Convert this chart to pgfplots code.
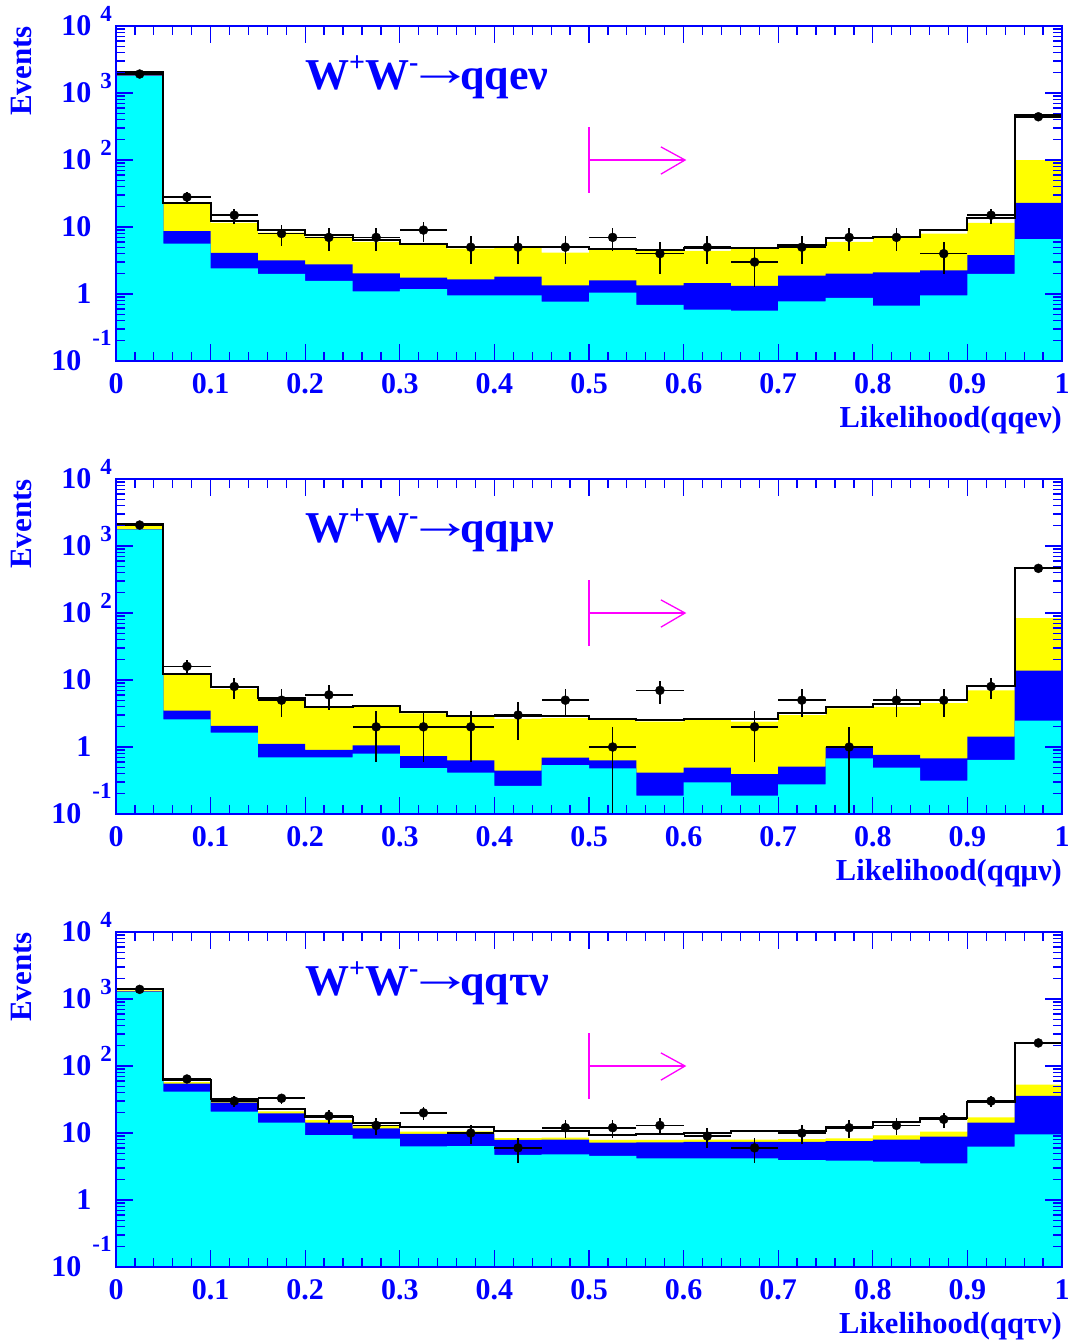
\documentclass[border=0pt]{standalone}
\usepackage{pgfplots}
\usepackage{pgfplotstable}
\pgfplotsset{compat=1.18}
\usepackage{fontspec}
\setmainfont{Liberation Serif}
\definecolor{rblue}{RGB}{0,0,255}
\definecolor{rcyan}{RGB}{0,255,255}
\definecolor{ryellow}{RGB}{255,255,0}
\definecolor{rmag}{RGB}{255,0,255}
\newcommand\tfont{\fontsize{30}{30}\selectfont\bfseries}
\newcommand\ex[1]{\smash{\rlap{\raisebox{14pt}{\fontsize{23}{23}\selectfont\bfseries\kern9pt#1}}}}
\newcommand\exm{\makebox[0pt][r]{10\kern10pt}\smash{\rlap{\raisebox{25pt}{\fontsize{23}{23}\selectfont\bfseries\kern1pt -1}}}}
\newcommand\sps[1]{\raisebox{0.42em}{\fontsize{28}{28}\selectfont #1}}
\newcommand\arr{\kern-11pt\raisebox{4pt}{\scalebox{1.5}[1.15]{\mdseries →}}\kern-13pt}

\pgfplotstableread{
x cc bb yy tt
0.00 1790 1830 1880 2055
0.05 5.66 8.65 22.9 23.0
0.10 2.42 4.11 11.5 12.2
0.15 2.0 3.19 8.27 9.06
0.20 1.57 2.78 7.12 7.71
0.25 1.09 2.04 6.0 6.35
0.30 1.18 1.76 5.47 5.6
0.35 0.957 1.66 4.77 4.99
0.40 0.95 1.82 4.88 5.0
0.45 0.77 1.35 4.16 5.0
0.50 1.05 1.60 4.61 4.77
0.55 0.687 1.35 4.40 4.6
0.60 0.585 1.45 4.4 4.9
0.65 0.565 1.32 4.75 4.8
0.70 0.778 1.88 5.17 5.47
0.75 0.873 2.02 6.0 6.96
0.80 0.67 2.11 6.9 7.0
0.85 0.95 2.26 7.98 8.96
0.90 2.0 3.79 11.5 13.8
0.95 6.57 22.9 99.5 468
1.00 6.57 22.9 99.5 468
}\hA
\pgfplotstableread{
x n ep em
0.025 1920 43.8 43.8
0.075 28 5.29 5.29
0.125 15 3.87 3.87
0.175 8 2.83 2.83
0.225 7 2.65 2.65
0.275 7 2.65 2.65
0.325 9 3 3
0.375 5 2.24 2.24
0.425 5 2.24 2.24
0.475 5 2.24 2.24
0.525 7 2.65 2.65
0.575 4 2 2
0.625 5 2.24 2.24
0.675 3 1.73 1.73
0.725 5 2.24 2.24
0.775 7 2.65 2.65
0.825 7 2.65 2.65
0.875 4 2 2
0.925 15 3.87 3.87
0.975 442 21.0 21.0
}\dA

\pgfplotstableread{
x cc bb yy tt
0.00 1750 1770 2000 2150
0.05 2.59 3.48 12.3 12.3
0.10 1.64 2.06 7.34 7.94
0.15 0.70 1.11 5.03 5.4
0.20 0.70 0.91 3.91 3.95
0.25 0.795 1.06 3.99 4.14
0.30 0.486 0.734 3.18 3.35
0.35 0.414 0.632 2.8 2.87
0.40 0.262 0.443 2.62 2.9
0.45 0.538 0.693 2.7 2.94
0.50 0.481 0.632 2.53 2.62
0.55 0.188 0.414 2.39 2.53
0.60 0.297 0.492 2.53 2.62
0.65 0.188 0.395 2.39 2.62
0.70 0.277 0.508 3.0 3.25
0.75 0.677 1.0 3.78 3.97
0.80 0.492 0.76 3.97 4.43
0.85 0.315 0.677 4.5 5.03
0.90 0.64 1.43 7.0 8.23
0.95 2.47 13.8 84.2 464
1.00 2.47 13.8 84.2 464
}\hB
\pgfplotstableread{
x n ep em
0.025 2055 45.3 45.3
0.075 16 4 4
0.125 8 2.83 2.83
0.175 5 2.24 2.24
0.225 6 2.45 2.45
0.275 2 1.41 1.41
0.325 2 1.41 1.41
0.375 2 1.41 1.41
0.425 3 1.73 1.73
0.475 5 2.24 2.24
0.525 1 1 0.999
0.575 7 2.65 2.65
0.675 2 1.41 1.41
0.725 5 2.24 2.24
0.775 1 1 0.999
0.825 5 2.24 2.24
0.875 5 2.24 2.24
0.925 8 2.83 2.83
0.975 464 21.5 21.5
}\dB

\pgfplotstableread{
x cc bb yy tt
0.00 1271 1300 1340 1426
0.05 41.4 54.5 57.7 61.8
0.10 20.8 28.4 30.7 31.8
0.15 14.3 19.7 21.0 23.1
0.20 9.34 14.3 15.6 17.5
0.25 8.23 11.7 12.7 14.3
0.30 6.32 9.67 10.5 12.2
0.35 6.4 9.8 10.6 12.4
0.40 4.7 7.87 8.4 10.6
0.45 4.8 8.0 8.5 10.6
0.50 4.54 7.17 7.9 9.3
0.55 4.19 7.25 7.9 9.77
0.60 4.19 7.4 8.0 9.9
0.65 4.19 7.4 8.0 10.8
0.70 3.95 7.4 8.1 10.8
0.75 3.86 7.6 8.3 12.4
0.80 3.73 8.0 9.2 14.6
0.85 3.53 8.8 10.5 16.7
0.90 6.25 14.3 17.1 29.0
0.95 9.55 35.7 52.7 223
1.00 9.55 35.7 52.7 223
}\hC
\pgfplotstableread{
x n ep em
0.025 1393 37.3 37.3
0.075 64 8 8
0.125 30 5.48 5.48
0.175 33 5.74 5.74
0.225 18 4.24 4.24
0.275 13 3.61 3.61
0.325 20 4.47 4.47
0.375 10 3.16 3.16
0.425 6 2.45 2.45
0.475 12 3.46 3.46
0.525 12 3.46 3.46
0.575 13 3.61 3.61
0.625 9 3 3
0.675 6 2.45 2.45
0.725 10 3.16 3.16
0.775 12 3.46 3.46
0.825 13 3.61 3.61
0.875 16 4 4
0.925 30 5.48 5.48
0.975 221 14.9 14.9
}\dC

\pgfplotsset{
  every axis/.append style={
    axis line style={rblue, line width=1.6pt},
    major tick length=17pt, minor tick length=9pt,
    tick align=inside, xtick pos=both, ytick pos=both,
    ticklabel style={font=\tfont, text=rblue},
    xticklabel style={yshift=-9pt},
    yticklabel style={xshift=-21pt},
    ylabel style={at={(axis description cs:-0.0994,1)}, anchor=east, font=\fontsize{31}{31}\selectfont\bfseries, text=rblue, inner sep=0pt},
    xlabel style={at={(axis description cs:1,-0.135)}, anchor=north east, font=\fontsize{30.5}{30.5}\selectfont\bfseries, text=rblue, inner sep=0pt},
  },
  every tick/.style={rblue, line width=1.3pt},
}

\begin{document}
\begin{tikzpicture}
\useasboundingbox (0pt,0pt) rectangle (1068pt,-1343pt);

\begin{axis}[width=946pt, height=335pt, scale only axis, anchor=north west, at={(116pt,-26pt)},
  xmin=0, xmax=1, ymode=log, ymin=0.1, ymax=10000, axis on top,
  xtick={0,0.1,0.2,0.3,0.4,0.5,0.6,0.7,0.8,0.9,1},
  xticklabels={0,0.1,0.2,0.3,0.4,0.5,0.6,0.7,0.8,0.9,1},
  minor xtick={0.02,0.04,0.06,0.08,0.12,0.14,0.16,0.18,0.22,0.24,0.26,0.28,0.32,0.34,0.36,0.38,0.42,0.44,0.46,0.48,0.52,0.54,0.56,0.58,0.62,0.64,0.66,0.68,0.72,0.74,0.76,0.78,0.82,0.84,0.86,0.88,0.92,0.94,0.96,0.98},
  ytick={0.1,1,10,100,1000,10000},
  yticklabels={\exm,1,10,10\ex{2},10\ex{3},10\ex{4}},
  minor ytick={0.2,0.3,0.4,0.5,0.6,0.7,0.8,0.9,2,3,4,5,6,7,8,9,20,30,40,50,60,70,80,90,200,300,400,500,600,700,800,900,2000,3000,4000,5000,6000,7000,8000,9000},
  ylabel={Events}, xlabel={Likelihood(qqeν)}]
\addplot[const plot, fill=white, draw=black, line width=2pt] table[x=x,y=tt]{\hA} |- (axis cs:0,0.01) -- cycle;
\addplot[const plot, fill=ryellow, draw=none] table[x=x,y=yy]{\hA} |- (axis cs:0,0.01) -- cycle;
\addplot[const plot, fill=rblue, draw=none] table[x=x,y=bb]{\hA} |- (axis cs:0,0.01) -- cycle;
\addplot[const plot, fill=rcyan, draw=none] table[x=x,y=cc]{\hA} |- (axis cs:0,0.01) -- cycle;
\addplot[const plot, black, line width=2pt, no marks] table[x=x,y=tt]{\hA};
\addplot[black, only marks, mark=*, mark size=4.5pt, error bars/.cd, x dir=both, x fixed=0.025, y dir=both, y explicit, error bar style={line width=1.6pt, black}, error mark=none] table[x=x,y=n,y error plus=ep,y error minus=em]{\dA};
\addplot[rmag, line width=1.3pt, no marks] coordinates {(0.5,32.4) (0.5,313)};
\addplot[rmag, line width=1.3pt, no marks] coordinates {(0.5,100) (0.6,100)};
\addplot[rmag, line width=1.3pt, no marks] coordinates {(0.576,157) (0.6015,100) (0.576,61.5)};
\node[anchor=base west, inner sep=0pt, text=rblue, font=\fontsize{44}{44}\selectfont\bfseries] at (rel axis cs:0.1998,0.81) {W\sps{+}W\sps{-}\arr qqeν};
\end{axis}

\begin{axis}[width=946pt, height=335pt, scale only axis, anchor=north west, at={(116pt,-479pt)},
  xmin=0, xmax=1, ymode=log, ymin=0.1, ymax=10000, axis on top,
  xtick={0,0.1,0.2,0.3,0.4,0.5,0.6,0.7,0.8,0.9,1},
  xticklabels={0,0.1,0.2,0.3,0.4,0.5,0.6,0.7,0.8,0.9,1},
  minor xtick={0.02,0.04,0.06,0.08,0.12,0.14,0.16,0.18,0.22,0.24,0.26,0.28,0.32,0.34,0.36,0.38,0.42,0.44,0.46,0.48,0.52,0.54,0.56,0.58,0.62,0.64,0.66,0.68,0.72,0.74,0.76,0.78,0.82,0.84,0.86,0.88,0.92,0.94,0.96,0.98},
  ytick={0.1,1,10,100,1000,10000},
  yticklabels={\exm,1,10,10\ex{2},10\ex{3},10\ex{4}},
  minor ytick={0.2,0.3,0.4,0.5,0.6,0.7,0.8,0.9,2,3,4,5,6,7,8,9,20,30,40,50,60,70,80,90,200,300,400,500,600,700,800,900,2000,3000,4000,5000,6000,7000,8000,9000},
  ylabel={Events}, xlabel={Likelihood(qqμν)}]
\addplot[const plot, fill=white, draw=black, line width=2pt] table[x=x,y=tt]{\hB} |- (axis cs:0,0.01) -- cycle;
\addplot[const plot, fill=ryellow, draw=none] table[x=x,y=yy]{\hB} |- (axis cs:0,0.01) -- cycle;
\addplot[const plot, fill=rblue, draw=none] table[x=x,y=bb]{\hB} |- (axis cs:0,0.01) -- cycle;
\addplot[const plot, fill=rcyan, draw=none] table[x=x,y=cc]{\hB} |- (axis cs:0,0.01) -- cycle;
\addplot[const plot, black, line width=2pt, no marks] table[x=x,y=tt]{\hB};
\addplot[black, only marks, mark=*, mark size=4.5pt, error bars/.cd, x dir=both, x fixed=0.025, y dir=both, y explicit, error bar style={line width=1.6pt, black}, error mark=none] table[x=x,y=n,y error plus=ep,y error minus=em]{\dB};
\addplot[rmag, line width=1.3pt, no marks] coordinates {(0.5,32.4) (0.5,313)};
\addplot[rmag, line width=1.3pt, no marks] coordinates {(0.5,100) (0.6,100)};
\addplot[rmag, line width=1.3pt, no marks] coordinates {(0.576,157) (0.6015,100) (0.576,61.5)};
\node[anchor=base west, inner sep=0pt, text=rblue, font=\fontsize{44}{44}\selectfont\bfseries] at (rel axis cs:0.1998,0.81) {W\sps{+}W\sps{-}\arr qqμν};
\end{axis}

\begin{axis}[width=946pt, height=335pt, scale only axis, anchor=north west, at={(116pt,-932pt)},
  xmin=0, xmax=1, ymode=log, ymin=0.1, ymax=10000, axis on top,
  xtick={0,0.1,0.2,0.3,0.4,0.5,0.6,0.7,0.8,0.9,1},
  xticklabels={0,0.1,0.2,0.3,0.4,0.5,0.6,0.7,0.8,0.9,1},
  minor xtick={0.02,0.04,0.06,0.08,0.12,0.14,0.16,0.18,0.22,0.24,0.26,0.28,0.32,0.34,0.36,0.38,0.42,0.44,0.46,0.48,0.52,0.54,0.56,0.58,0.62,0.64,0.66,0.68,0.72,0.74,0.76,0.78,0.82,0.84,0.86,0.88,0.92,0.94,0.96,0.98},
  ytick={0.1,1,10,100,1000,10000},
  yticklabels={\exm,1,10,10\ex{2},10\ex{3},10\ex{4}},
  minor ytick={0.2,0.3,0.4,0.5,0.6,0.7,0.8,0.9,2,3,4,5,6,7,8,9,20,30,40,50,60,70,80,90,200,300,400,500,600,700,800,900,2000,3000,4000,5000,6000,7000,8000,9000},
  ylabel={Events}, xlabel={Likelihood(qqτν)}]
\addplot[const plot, fill=white, draw=black, line width=2pt] table[x=x,y=tt]{\hC} |- (axis cs:0,0.01) -- cycle;
\addplot[const plot, fill=ryellow, draw=none] table[x=x,y=yy]{\hC} |- (axis cs:0,0.01) -- cycle;
\addplot[const plot, fill=rblue, draw=none] table[x=x,y=bb]{\hC} |- (axis cs:0,0.01) -- cycle;
\addplot[const plot, fill=rcyan, draw=none] table[x=x,y=cc]{\hC} |- (axis cs:0,0.01) -- cycle;
\addplot[const plot, black, line width=2pt, no marks] table[x=x,y=tt]{\hC};
\addplot[black, only marks, mark=*, mark size=4.5pt, error bars/.cd, x dir=both, x fixed=0.025, y dir=both, y explicit, error bar style={line width=1.6pt, black}, error mark=none] table[x=x,y=n,y error plus=ep,y error minus=em]{\dC};
\addplot[rmag, line width=1.3pt, no marks] coordinates {(0.5,32.4) (0.5,313)};
\addplot[rmag, line width=1.3pt, no marks] coordinates {(0.5,100) (0.6,100)};
\addplot[rmag, line width=1.3pt, no marks] coordinates {(0.576,157) (0.6015,100) (0.576,61.5)};
\node[anchor=base west, inner sep=0pt, text=rblue, font=\fontsize{44}{44}\selectfont\bfseries] at (rel axis cs:0.1998,0.81) {W\sps{+}W\sps{-}\arr qqτν};
\end{axis}
\end{tikzpicture}
\end{document}
